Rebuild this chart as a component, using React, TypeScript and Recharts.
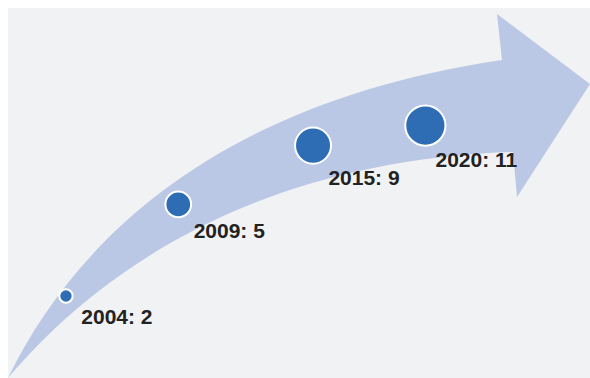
import { ReferenceArea, Scatter, ScatterChart, XAxis, YAxis, ZAxis } from "recharts";

// milestones along the arrow
const years = [2004, 2009, 2015, 2020];
const counts = [2, 5, 9, 11];

const data = years.map((year, i) => ({ year, value: counts[i] }));

const W = 582;
const H = 370;
const xDomain: [number, number] = [2001.42, 2027.33];
const yDomain: [number, number] = [0.881, 35.64];

// arrow outline as fractions of the plot box
function Arrow(props: any) {
  const { x, y, width: w, height: h } = props;
  const p = (fx: number, fy: number) => `${x + fx * w},${y + fy * h}`;
  const d = [
    `M${p(0, 1)}`,
    `C${p(0.1237, 0.6)} ${p(0.3814, 0.2486)} ${p(0.8488, 0.1405)}`,
    `L${p(0.8402, 0.0162)}`,
    `L${p(1, 0.2054)}`,
    `L${p(0.8746, 0.5108)}`,
    `L${p(0.8677, 0.3892)}`,
    `C${p(0.4674, 0.4108)} ${p(0.1838, 0.6595)} ${p(0, 1)}`,
    "Z",
  ].join(" ");
  return <path d={d} fill="#bac8e6" />;
}

function Dot(props: any) {
  const { cx, cy, width, size, payload } = props;
  const r = width ? width / 2 : Math.sqrt(size / Math.PI);
  return (
    <g>
      <circle cx={cx} cy={cy} r={r} fill="#2e6db4" stroke="#ffffff" strokeWidth={2} />
      <text
        x={cx + 51}
        y={cy + r + 21}
        textAnchor="middle"
        fontFamily="'Liberation Sans', Arial, sans-serif"
        fontWeight="bold"
        fontSize={21}
        fill="#222222"
      >
        {`${payload.year}: ${payload.value}`}
      </text>
    </g>
  );
}

export default function App() {
  return (
    <div style={{ width: W, height: H, background: "#f1f2f4" }}>
      <style>{"html{overflow:hidden} body{margin:8px 0 0 8px}"}</style>
      <ScatterChart width={W} height={H} margin={{ top: 0, right: 0, bottom: 0, left: 0 }}>
        <XAxis type="number" dataKey="year" domain={xDomain} allowDataOverflow hide />
        <YAxis type="number" dataKey="value" scale="log" domain={yDomain} allowDataOverflow hide />
        <ZAxis type="number" dataKey="value" domain={[2, 11]} range={[140, 1270]} />
        <ReferenceArea
          x1={xDomain[0]}
          x2={xDomain[1]}
          y1={yDomain[0]}
          y2={yDomain[1]}
          ifOverflow="visible"
          shape={(p: any) => <Arrow {...p} />}
        />
        <Scatter data={data} isAnimationActive={false} shape={(p: any) => <Dot {...p} />} />
      </ScatterChart>
    </div>
  );
}
